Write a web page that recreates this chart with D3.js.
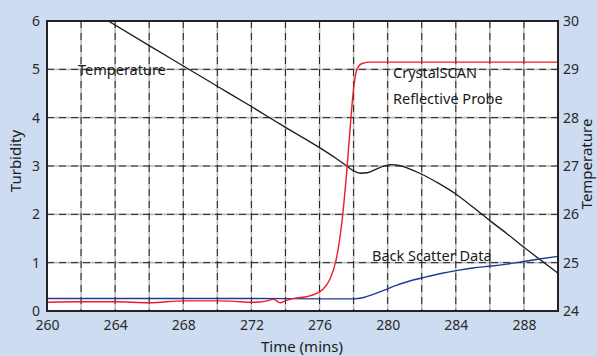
<!DOCTYPE html>
<html>
<head>
<meta charset="utf-8">
<script src="https://cdn.jsdelivr.net/npm/d3@7"></script>
<style>
  body { margin: 0; background: #cddcf1; }
  svg { display: block; font-family: "Noto Sans", "Open Sans", sans-serif; }
</style>
</head>
<body>
<svg id="chart" width="597" height="356"></svg>
<script>
// time axis ticks (mins) and value ticks
var timeTicks = [260, 264, 268, 272, 276, 280, 284, 288];
var turbTicks = [0, 1, 2, 3, 4, 5, 6];
var tempTicks = [24, 25, 26, 27, 28, 29, 30];

// CrystalSCAN reflective probe, turbidity
var probeTime = [260, 262, 264, 266, 268, 270, 271, 272, 272.8, 273.3, 273.7, 274, 274.5, 275.3, 275.8, 276.2, 276.6, 277, 277.3, 277.6, 277.8, 278, 278.2, 278.5, 279, 282, 286, 290];
var probeTurb = [0.18, 0.19, 0.19, 0.17, 0.21, 0.21, 0.2, 0.18, 0.2, 0.24, 0.17, 0.21, 0.26, 0.3, 0.36, 0.45, 0.65, 1.1, 1.8, 2.9, 3.8, 4.6, 5.0, 5.12, 5.15, 5.15, 5.15, 5.15];

// back scatter data, turbidity
var scatterTime = [260, 264, 268, 272, 276, 278, 278.6, 279.2, 279.8, 280.5, 281.3, 282.2, 283.2, 284.1, 285, 286.1, 287, 288.1, 289, 290];
var scatterTurb = [0.26, 0.26, 0.26, 0.26, 0.25, 0.25, 0.28, 0.35, 0.43, 0.53, 0.62, 0.7, 0.78, 0.84, 0.89, 0.93, 0.97, 1.03, 1.08, 1.13];

// temperature, right axis
var tempTime = [263.6, 266, 268, 270, 272, 274, 276, 277, 277.6, 278, 278.4, 278.8, 279.3, 279.8, 280.2, 280.6, 281.2, 282, 283, 284, 285, 286, 287, 288, 289, 290];
var tempVal = [30, 29.49, 29.07, 28.65, 28.23, 27.8, 27.38, 27.15, 27.0, 26.9, 26.85, 26.86, 26.93, 27.0, 27.03, 27.02, 26.95, 26.83, 26.64, 26.42, 26.15, 25.87, 25.6, 25.32, 25.05, 24.78];

var svg = d3.select('#chart');
var pL = 47, pR = 558, pT = 21, pB = 311;

var x = d3.scaleLinear().domain([260, 290]).range([pL, pR]);
var yL = d3.scaleLinear().domain([0, 6]).range([pB, pT]);
var yR = d3.scaleLinear().domain([24, 30]).range([pB, pT]);

svg.append('rect')
  .attr('x', pL).attr('y', pT)
  .attr('width', pR - pL).attr('height', pB - pT)
  .attr('fill', '#fff');

// grid: grey solid under black dashes
var vGrid = d3.range(262, 290, 2);
var hGrid = [1, 2, 3, 4, 5];
var grid = svg.append('g');
[['#bdbdbd', 1.6, null], ['#222', 1, '7,5']].forEach(function(s) {
  grid.selectAll(null).data(vGrid).enter().append('line')
    .attr('x1', function(d) { return x(d); }).attr('x2', function(d) { return x(d); })
    .attr('y1', pT).attr('y2', pB)
    .attr('stroke', s[0]).attr('stroke-width', s[1]).attr('stroke-dasharray', s[2]);
  grid.selectAll(null).data(hGrid).enter().append('line')
    .attr('y1', function(d) { return yL(d); }).attr('y2', function(d) { return yL(d); })
    .attr('x1', pL).attr('x2', pR)
    .attr('stroke', s[0]).attr('stroke-width', s[1]).attr('stroke-dasharray', s[2]);
});

// labels in plot
var lab = svg.append('g').attr('font-size', 14.5).attr('fill', '#1a1a1a');
lab.append('text').attr('x', 78).attr('y', 75).text('Temperature');
lab.append('text').attr('x', 393).attr('y', 78).text('CrystalSCAN');
lab.append('text').attr('x', 393).attr('y', 104).text('Reflective Probe');
lab.append('text').attr('x', 372).attr('y', 261).text('Back Scatter Data');

svg.append('clipPath').attr('id', 'clip')
  .append('rect').attr('x', pL).attr('y', pT).attr('width', pR - pL).attr('height', pB - pT);

var lineL = d3.line().curve(d3.curveMonotoneX)
  .x(function(d) { return x(d[0]); }).y(function(d) { return yL(d[1]); });
var lineR = d3.line().curve(d3.curveMonotoneX)
  .x(function(d) { return x(d[0]); }).y(function(d) { return yR(d[1]); });

var plot = svg.append('g').attr('clip-path', 'url(#clip)');
plot.append('path').datum(d3.zip(tempTime, tempVal))
  .attr('d', lineR).attr('fill', 'none').attr('stroke', '#1c1c1c').attr('stroke-width', 1.3);
plot.append('path').datum(d3.zip(scatterTime, scatterTurb))
  .attr('d', lineL).attr('fill', 'none').attr('stroke', '#1f3b94').attr('stroke-width', 1.4);
plot.append('path').datum(d3.zip(probeTime, probeTurb))
  .attr('d', lineL).attr('fill', 'none').attr('stroke', '#ee1c24').attr('stroke-width', 1.4);

// frame
svg.append('rect')
  .attr('x', pL).attr('y', pT)
  .attr('width', pR - pL).attr('height', pB - pT)
  .attr('fill', 'none').attr('stroke', '#222').attr('stroke-width', 2);

// axes
function styleAxis(g) {
  g.select('.domain').remove();
  g.selectAll('.tick line').remove();
  g.selectAll('.tick text').attr('fill', '#2a2a2a').attr('font-size', 14)
    .attr('font-family', '"Noto Sans", "Open Sans", sans-serif');
}
svg.append('g').attr('transform', 'translate(0,' + pB + ')')
  .call(d3.axisBottom(x).tickValues(timeTicks).tickFormat(d3.format('d')).tickSize(0).tickPadding(9))
  .call(styleAxis);
svg.append('g').attr('transform', 'translate(' + pL + ',0)')
  .call(d3.axisLeft(yL).tickValues(turbTicks).tickFormat(d3.format('d')).tickSize(0).tickPadding(7))
  .call(styleAxis);
svg.append('g').attr('transform', 'translate(' + pR + ',0)')
  .call(d3.axisRight(yR).tickValues(tempTicks).tickFormat(d3.format('d')).tickSize(0).tickPadding(5))
  .call(styleAxis);

// axis titles
var t = svg.append('g').attr('font-size', 15).attr('fill', '#1a1a1a').attr('text-anchor', 'middle');
t.append('text').attr('x', 302).attr('y', 352).text('Time (mins)');
t.append('text').attr('transform', 'translate(21,161) rotate(-90)').text('Turbidity');
t.append('text').attr('transform', 'translate(592,164) rotate(-90)').text('Temperature');
</script>
</body>
</html>
